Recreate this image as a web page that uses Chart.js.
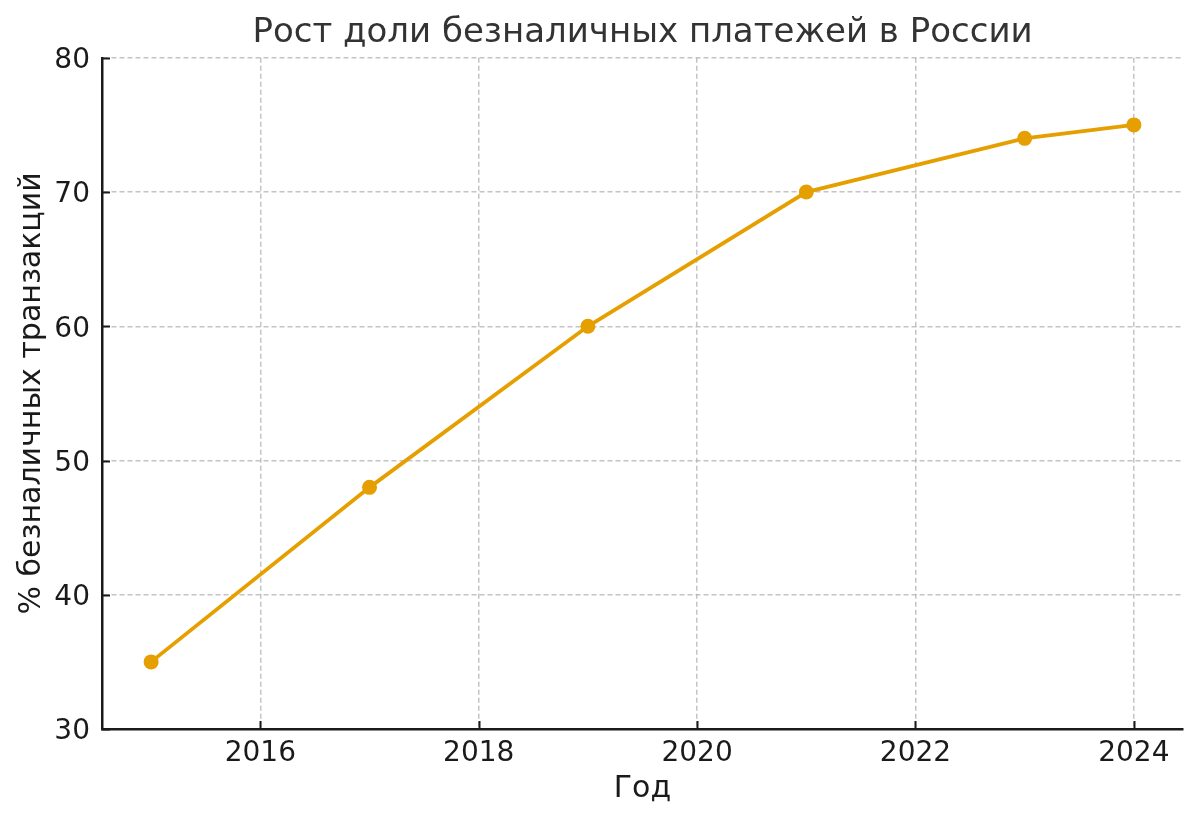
<!DOCTYPE html>
<html lang="ru">
<head>
<meta charset="utf-8">
<title>Рост доли безналичных платежей в России</title>
<script src="https://cdn.jsdelivr.net/npm/chart.js@4.4.1/dist/chart.umd.min.js"></script>
<style>
  html, body { margin: 0; padding: 0; background: #ffffff; }
  #chart { display: block; }
</style>
</head>
<body>
<canvas id="chart" width="1200" height="822"></canvas>
<script>
// Данные графика
const years = [2015, 2017, 2019, 2021, 2023, 2024];
const shares = [35, 48, 60, 70, 74, 75];
const xTicks = [2016, 2018, 2020, 2022, 2024];
const yTicks = [30, 40, 50, 60, 70, 80];

const lineColor = '#E69F00';
const gridColor = 'rgba(176,176,176,0.75)';
const axisColor = '#1a1a1a';
const font = "'DejaVu Sans', sans-serif";

// Внутренние засечки на осях, как в matplotlib
const innerTicks = {
    id: 'innerTicks',
    afterDraw(chart) {
        const ctx = chart.ctx;
        const x = chart.scales.x;
        const y = chart.scales.y;
        const area = chart.chartArea;
        ctx.save();
        ctx.strokeStyle = axisColor;
        ctx.lineWidth = 2;
        xTicks.forEach(function (v) {
            const px = Math.round(x.getPixelForValue(v)) + 0.5;
            ctx.beginPath();
            ctx.moveTo(px, area.bottom);
            ctx.lineTo(px, area.bottom - 8);
            ctx.stroke();
        });
        yTicks.forEach(function (v) {
            const py = Math.round(y.getPixelForValue(v)) + 0.5;
            ctx.beginPath();
            ctx.moveTo(area.left, py);
            ctx.lineTo(area.left + 8, py);
            ctx.stroke();
        });
        ctx.restore();
    }
};

const config = {
    type: 'line',
    data: {
        datasets: [{
            label: '% безналичных транзакций',
            data: years.map(function (yr, i) { return { x: yr, y: shares[i] }; }),
            borderColor: lineColor,
            backgroundColor: lineColor,
            borderWidth: 3.8,
            pointRadius: 7.5,
            pointHoverRadius: 7.5,
            pointBorderWidth: 0,
            tension: 0,
            fill: false
        }]
    },
    options: {
        responsive: false,
        devicePixelRatio: 1,
        animation: false,
        layout: { padding: { top: 8, right: 17, bottom: 0, left: 0 } },
        plugins: {
            legend: { display: false },
            tooltip: { enabled: false },
            title: {
                display: true,
                fullSize: false,
                text: 'Рост доли безналичных платежей в России',
                color: '#333333',
                font: { family: font, size: 34, weight: 'normal' },
                padding: { top: 5, bottom: 4 }
            }
        },
        scales: {
            x: {
                type: 'linear',
                min: 2014.55,
                max: 2024.45,
                afterBuildTicks: function (scale) {
                    scale.ticks = xTicks.map(function (v) { return { value: v }; });
                },
                afterFit: function (scale) { scale.height = 93; },
                grid: {
                    color: gridColor,
                    lineWidth: 1.5,
                    drawTicks: false
                },
                border: { display: true, color: axisColor, width: 2.5, dash: [5, 3] },
                ticks: {
                    color: '#1a1a1a',
                    font: { family: font, size: 28 },
                    padding: 8,
                    maxRotation: 0,
                    callback: function (v) { return String(v); }
                },
                title: {
                    display: true,
                    text: 'Год',
                    color: '#1a1a1a',
                    font: { family: font, size: 30 },
                    padding: { top: 0, bottom: 15 }
                }
            },
            y: {
                type: 'linear',
                min: 30,
                max: 80,
                afterBuildTicks: function (scale) {
                    scale.ticks = yTicks.map(function (v) { return { value: v }; });
                },
                afterFit: function (scale) { scale.width = 102; },
                grid: {
                    color: gridColor,
                    lineWidth: 1.5,
                    drawTicks: false
                },
                border: { display: true, color: axisColor, width: 2.5, dash: [5, 3] },
                ticks: {
                    color: '#1a1a1a',
                    font: { family: font, size: 28 },
                    padding: 12,
                    labelOffset: 3
                },
                title: {
                    display: true,
                    text: '% безналичных транзакций',
                    color: '#1a1a1a',
                    font: { family: font, size: 30 },
                    padding: { top: 14, bottom: 0 }
                }
            }
        }
    },
    plugins: [innerTicks]
};

new Chart(document.getElementById('chart'), config);
</script>
</body>
</html>
